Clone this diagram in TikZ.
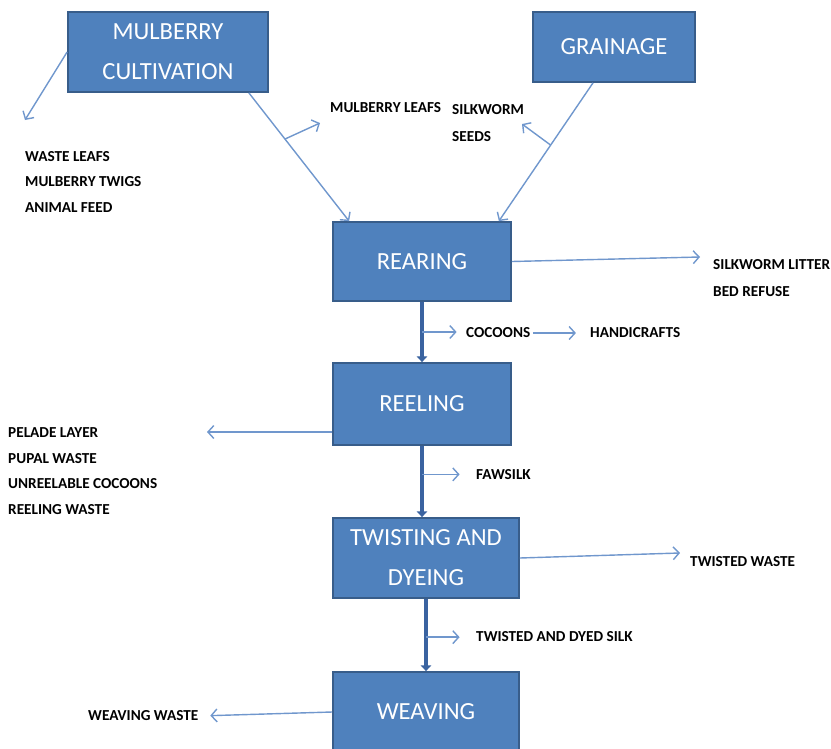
\documentclass[tikz,border=0pt]{standalone}
\usepackage{fontspec}
\setmainfont{Carlito}
\usetikzlibrary{arrows.meta,calc}
\definecolor{boxfill}{HTML}{4F81BD}
\definecolor{boxline}{HTML}{385D8A}
\definecolor{thinblue}{HTML}{7097CD}
\definecolor{thickblue}{HTML}{3A63A0}
\begin{document}
\begin{tikzpicture}[x=0.03cm,y=-0.03cm,
  box/.style={draw=boxline, line width=1.5pt, fill=boxfill, text=white,
    font=\fontsize{21}{34}\selectfont, align=center, inner sep=0pt},
  lbl/.style={font=\bfseries\fontsize{13}{22}\selectfont, align=left, anchor=west, inner sep=0pt},
  thinarrow/.style={draw=thinblue, line width=1.2pt, -{Straight Barb[length=5pt,width=11pt]}},
  thickarrow/.style={draw=thickblue, line width=4.2pt, -{Triangle[length=5pt,width=9pt]}}]
\path[use as bounding box, clip] (0,0) rectangle (831,749);
% boxes
\node[box, minimum width=6cm, minimum height=2.4cm] (mc) at (168,52) {MULBERRY\\CULTIVATION};
\node[box, minimum width=4.86cm, minimum height=2.1cm] (gr) at (614,47) {GRAINAGE};
\node[box, minimum width=5.34cm, minimum height=2.37cm] (rear) at (422,261.5) {REARING};
\node[box, minimum width=5.34cm, minimum height=2.46cm] (reel) at (422,404) {REELING};
\node[box, minimum width=5.58cm, minimum height=2.4cm] (twist) at (426,558) {TWISTING AND\\DYEING};
\node[box, minimum width=5.58cm, minimum height=2.4cm] (weave) at (426,712) {WEAVING};
% labels
\node[lbl] (wl) at (25,182) {WASTE LEAFS\\MULBERRY TWIGS\\ANIMAL FEED};
\node[lbl] (ml) at (330,108) {MULBERRY LEAFS};
\node[lbl, font=\bfseries\fontsize{13}{23}\selectfont] (ss) at (452,123.5) {SILKWORM\\SEEDS};
\node[lbl, font=\bfseries\fontsize{13}{23}\selectfont] (sl) at (713,278.5) {SILKWORM LITTER\\BED REFUSE};
\node[lbl] (coc) at (466,333) {COCOONS};
\node[lbl] (hc) at (590,333) {HANDICRAFTS};
\node[lbl] (pl) at (8,471) {PELADE LAYER\\PUPAL WASTE\\UNREELABLE COCOONS\\REELING WASTE};
\node[lbl] (fs) at (476,475) {FAWSILK};
\node[lbl] (tw) at (690,562) {TWISTED WASTE};
\node[lbl] (tds) at (476,637) {TWISTED AND DYED SILK};
\node[lbl] (ww) at (88,716) {WEAVING WASTE};
% free ends
\coordinate (wlt) at (25,120);
\coordinate (mlt) at (320,123);
\coordinate (sst) at (522,124);
\coordinate (slt) at (700,257);
\coordinate (pla) at (207,432);
\coordinate (twa) at (680,553);
% thin connectors
\draw[thinarrow] (mc.west) -- (wlt);
\draw[thinarrow] ($(mc.south east)+(-20,0)$) -- coordinate[pos=0.36] (b1) ($(rear.north west)+(17,0)$);
\draw[thinarrow] (b1) -- (mlt);
\draw[thinarrow] ($(gr.south)+(-21,0)$) -- coordinate[pos=0.45] (b2) ($(rear.north east)+(-13,0)$);
\draw[thinarrow] (b2) -- (sst);
\draw[thinarrow] (rear.east) -- (slt);
\draw[thinarrow] (reel.west |- pla) -- (pla);
\draw[thinarrow] (twist.east) -- (twa);
\draw[thinarrow, shorten >=10pt] (weave.west) -- (ww.east);
% main column
\draw[thickarrow] (rear.south) -- coordinate[pos=0.5] (c1) (reel.north);
\draw[thickarrow] (reel.south) -- coordinate[pos=0.4] (c2) (reel.south |- twist.north);
\draw[thickarrow] (twist.south) -- coordinate[pos=0.53] (c3) (weave.north);
\draw[thinarrow, shorten >=8pt] (c1) -- (c1 -| coc.west);
\draw[thinarrow, shorten <=2pt, shorten >=12pt] (coc.east) -- (hc.west);
\draw[thinarrow, shorten >=14pt] (c2) -- (c2 -| fs.west);
\draw[thinarrow, shorten >=14pt] (c3) -- (c3 -| tds.west);
\end{tikzpicture}
\end{document}
